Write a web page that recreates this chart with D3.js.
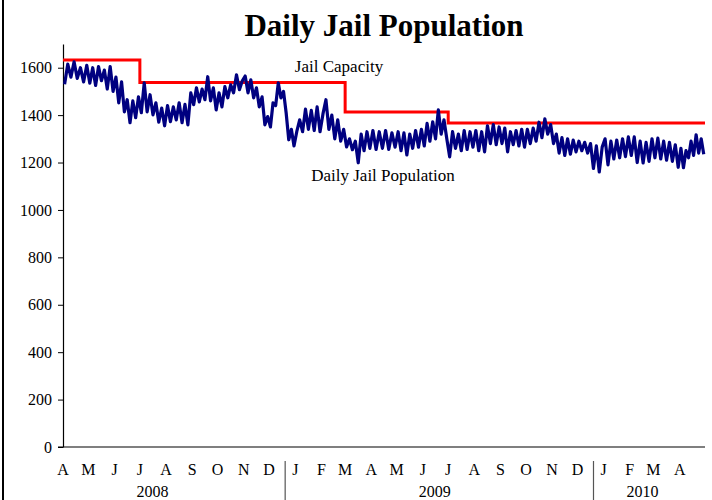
<!DOCTYPE html>
<html>
<head>
<meta charset="utf-8">
<script src="https://cdn.jsdelivr.net/npm/d3@7"></script>
<style>
  body { margin: 0; background: #fff; }
  svg text { font-family: "Liberation Serif", "Times New Roman", serif; }
</style>
</head>
<body>
<div id="chart"></div>
<script>
var w = 712;
var h = 500;

// months covered by the population series (one sub-array of readings per month)
var popMonths = ["2008-04","2008-05","2008-06","2008-07","2008-08","2008-09","2008-10","2008-11","2008-12",
                 "2009-01","2009-02","2009-03","2009-04","2009-05","2009-06","2009-07","2009-08","2009-09",
                 "2009-10","2009-11","2009-12","2010-01","2010-02","2010-03","2010-04"];

var popValues = [
  [1530, 1615, 1560, 1625, 1555, 1600, 1540, 1610],            // Apr 08
  [1535, 1600, 1525, 1605, 1545, 1590, 1510, 1605, 1500],      // May
  [1560, 1452, 1540, 1414, 1465, 1368, 1460, 1389, 1477],      // Jun
  [1410, 1536, 1414, 1486, 1401, 1452, 1370, 1430, 1355],      // Jul
  [1440, 1372, 1435, 1380, 1452, 1368, 1445, 1359, 1494],      // Aug
  [1444, 1515, 1456, 1510, 1465, 1562, 1460, 1515, 1422],      // Sep
  [1494, 1435, 1520, 1473, 1528, 1494, 1570, 1507, 1545],      // Oct
  [1565, 1494, 1549, 1473, 1515, 1435, 1477, 1359, 1394],      // Nov
  [1350, 1452, 1440, 1536, 1473, 1500, 1410, 1296, 1340, 1270],// Dec
  [1330, 1380, 1330, 1425, 1340, 1420, 1335, 1435, 1330],      // Jan 09
  [1405, 1465, 1340, 1400, 1300, 1380, 1290, 1340],            // Feb
  [1266, 1300, 1254, 1290, 1199, 1320, 1250, 1330, 1260],      // Mar
  [1335, 1255, 1330, 1260, 1335, 1255, 1325, 1265],            // Apr
  [1330, 1250, 1325, 1232, 1320, 1260, 1335, 1265, 1340],      // May
  [1270, 1365, 1290, 1372, 1300, 1422, 1320, 1380, 1300],      // Jun
  [1224, 1330, 1260, 1320, 1250, 1335, 1255, 1330, 1265],      // Jul
  [1335, 1250, 1330, 1245, 1355, 1280, 1360, 1275, 1350],      // Aug
  [1280, 1345, 1245, 1330, 1275, 1335, 1270, 1340, 1265],      // Sep
  [1340, 1280, 1345, 1290, 1370, 1305, 1384, 1320, 1360],      // Oct
  [1280, 1320, 1240, 1305, 1230, 1300, 1235, 1295, 1245],      // Nov
  [1290, 1250, 1285, 1240, 1280, 1175, 1270, 1160, 1265],      // Dec
  [1300, 1190, 1290, 1215, 1295, 1220, 1300, 1225, 1308],      // Jan 10
  [1230, 1308, 1200, 1290, 1198, 1285, 1205, 1300],            // Feb
  [1220, 1303, 1215, 1290, 1210, 1285, 1205, 1275, 1180],      // Mar
  [1260, 1178, 1250, 1220, 1290, 1230, 1317, 1240, 1300, 1235] // Apr
];

// jail capacity steps (value holds until next date)
var capDates = ["2008-04-01", "2008-07-01", "2009-03-01", "2009-07-01", "2010-05-01"];
var capValues = [1632, 1538, 1413, 1367, 1367];

var yTicks = [0, 200, 400, 600, 800, 1000, 1200, 1400, 1600];
var monthLetters = ["J","F","M","A","M","J","J","A","S","O","N","D"];
var years = ["2008", "2009", "2010"];
var yearLabelDates = ["2008-07-16", "2009-06-15", "2010-02-16"];
var yearBreaks = ["2008-12-20", "2009-12-20"];

var parseDay = d3.utcParse("%Y-%m-%d");
var parseMonth = d3.utcParse("%Y-%m");

var start = parseDay("2008-04-01");
var end = parseDay("2010-05-01");

var x = d3.scaleUtc().domain([start, end]).range([63, 705]);
var y = d3.scaleLinear().domain([0, 1700]).range([447, 44]);

// flatten population readings, spreading each month's readings across the month
var pop = [];
popMonths.forEach(function(m, i) {
  var m0 = parseMonth(m);
  var m1 = d3.utcMonth.offset(m0, 1);
  var vals = popValues[i];
  vals.forEach(function(v, j) {
    var t = new Date(+m0 + (m1 - m0) * (j + 0.5) / vals.length);
    pop.push({date: t, value: v});
  });
});

var cap = capDates.map(function(d, i) { return {date: parseDay(d), value: capValues[i]}; });

var svg = d3.select("#chart").append("svg")
  .attr("width", w)
  .attr("height", h);

// frame line on the left
svg.append("line")
  .attr("x1", 3).attr("x2", 3)
  .attr("y1", 0).attr("y2", h)
  .attr("stroke", "#000")
  .attr("stroke-width", 2);

svg.append("text")
  .attr("x", 384)
  .attr("y", 36)
  .attr("text-anchor", "middle")
  .style("font-size", "31px")
  .style("font-weight", "bold")
  .text("Daily Jail Population");

// y axis
var yAxis = d3.axisLeft(y)
  .tickValues(yTicks)
  .tickFormat(d3.format("d"))
  .tickSize(5)
  .tickPadding(6)
  .tickSizeOuter(0);

var gy = svg.append("g")
  .attr("transform", "translate(63,0)")
  .call(yAxis);
gy.select(".domain").attr("stroke", "#000").attr("stroke-width", 1.2);
gy.selectAll("text")
  .style("font-family", "Liberation Serif, serif")
  .style("font-size", "16px")
  .attr("fill", "#000");

// x axis baseline
svg.append("line")
  .attr("x1", 58).attr("x2", x(end))
  .attr("y1", y(0)).attr("y2", y(0))
  .attr("stroke", "#000")
  .attr("stroke-width", 1.2);

// month letters at each month start
var months = d3.utcMonth.range(start, end);
svg.append("g").selectAll("text")
  .data(months)
  .join("text")
  .attr("x", function(d) { return x(d); })
  .attr("y", 475)
  .attr("text-anchor", "middle")
  .style("font-size", "16px")
  .text(function(d) { return monthLetters[d.getUTCMonth()]; });

// year labels
years.forEach(function(yr, i) {
  svg.append("text")
    .attr("x", x(parseDay(yearLabelDates[i])))
    .attr("y", 497)
    .attr("text-anchor", "middle")
    .style("font-size", "16px")
    .text(yr);
});

// year separators
yearBreaks.forEach(function(d) {
  var sx = x(parseDay(d));
  svg.append("line")
    .attr("x1", sx).attr("x2", sx)
    .attr("y1", 461).attr("y2", h)
    .attr("stroke", "#555")
    .attr("stroke-width", 1.2);
});

// capacity line
svg.append("path")
  .datum(cap)
  .attr("fill", "none")
  .attr("stroke", "#ff0000")
  .attr("stroke-width", 3)
  .attr("d", d3.line()
    .curve(d3.curveStepAfter)
    .x(function(d) { return x(d.date); })
    .y(function(d) { return y(d.value); }));

// population line
svg.append("path")
  .datum(pop)
  .attr("fill", "none")
  .attr("stroke", "#000080")
  .attr("stroke-width", 3.2)
  .attr("stroke-linejoin", "round")
  .attr("d", d3.line()
    .x(function(d) { return x(d.date); })
    .y(function(d) { return y(d.value); }));

svg.append("text")
  .attr("x", 339)
  .attr("y", 72)
  .attr("text-anchor", "middle")
  .style("font-size", "17px")
  .text("Jail Capacity");

svg.append("text")
  .attr("x", 383)
  .attr("y", 181)
  .attr("text-anchor", "middle")
  .style("font-size", "17px")
  .text("Daily Jail Population");
</script>
</body>
</html>
